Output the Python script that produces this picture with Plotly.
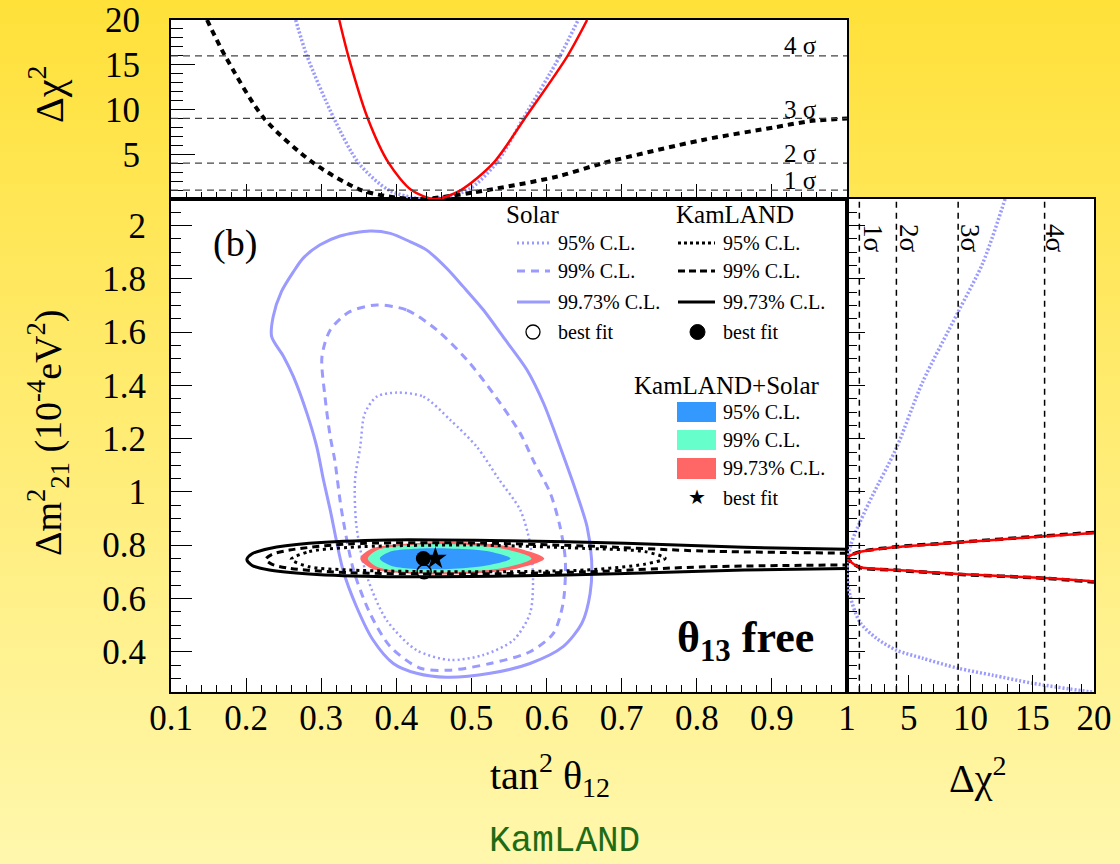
import plotly.graph_objects as go

# ---------------------------------------------------------------- data
SIGMA_LEVELS = [1, 4, 9, 16]
SIGMA_LABELS = ["1σ", "2σ", "3σ", "4σ"]

# Main panel: tan^2(theta12) vs Delta m^2_21 (1e-4 eV^2)
solar_9973_x = [0.365, 0.392, 0.418, 0.440, 0.467, 0.489, 0.516, 0.542, 0.574, 0.596, 0.618, 0.634,
                0.640, 0.654, 0.660, 0.658, 0.647, 0.622, 0.578, 0.525, 0.467, 0.427, 0.396, 0.369,
                0.347, 0.329, 0.312, 0.303, 0.294, 0.281, 0.263, 0.250, 0.234, 0.236, 0.247, 0.263,
                0.276, 0.298, 0.325, 0.365]
solar_9973_y = [1.980, 1.971, 1.940, 1.909, 1.840, 1.771, 1.683, 1.583, 1.458, 1.333, 1.170, 1.045,
                0.995, 0.869, 0.744, 0.619, 0.507, 0.419, 0.356, 0.319, 0.304, 0.319, 0.356, 0.444,
                0.569, 0.707, 0.932, 1.045, 1.170, 1.295, 1.433, 1.508, 1.583, 1.658, 1.752, 1.827,
                1.878, 1.927, 1.961, 1.980]

solar_99_x = [0.374, 0.414, 0.454, 0.494, 0.529, 0.565, 0.582, 0.605, 0.618, 0.625, 0.622, 0.609,
              0.578, 0.525, 0.472, 0.432, 0.392, 0.365, 0.343, 0.327, 0.318, 0.312, 0.305, 0.301,
              0.312, 0.338, 0.374]
solar_99_y = [1.702, 1.683, 1.608, 1.496, 1.370, 1.220, 1.120, 0.995, 0.869, 0.744, 0.582, 0.469,
              0.400, 0.356, 0.331, 0.338, 0.419, 0.544, 0.707, 0.932, 1.120, 1.208, 1.358, 1.508,
              1.608, 1.677, 1.702]

solar_95_x = [0.401, 0.436, 0.472, 0.507, 0.536, 0.565, 0.578, 0.582, 0.578, 0.556, 0.516, 0.472,
              0.427, 0.387, 0.361, 0.347, 0.345, 0.352, 0.358, 0.374, 0.401]
solar_95_y = [1.373, 1.358, 1.270, 1.170, 1.050, 0.932, 0.807, 0.669, 0.544, 0.444, 0.388, 0.369,
              0.406, 0.519, 0.682, 0.869, 1.045, 1.170, 1.295, 1.358, 1.373]

kam_9973_x = [1.000, 0.863, 0.705, 0.547, 0.389, 0.284, 0.231, 0.208, 0.201, 0.208, 0.231, 0.284,
              0.389, 0.547, 0.705, 0.863, 1.000]
kam_9973_y = [0.785, 0.792, 0.807, 0.817, 0.820, 0.807, 0.788, 0.768, 0.746, 0.724, 0.707, 0.692,
              0.682, 0.684, 0.694, 0.707, 0.713]

kam_99_x = [1.000, 0.810, 0.652, 0.494, 0.337, 0.258, 0.234, 0.226, 0.234, 0.258, 0.337, 0.494,
            0.652, 0.810, 1.000]
kam_99_y = [0.770, 0.778, 0.797, 0.809, 0.805, 0.782, 0.765, 0.747, 0.729, 0.713, 0.697, 0.692,
            0.700, 0.719, 0.726]

kam_95_x = [0.260, 0.284, 0.337, 0.494, 0.652, 0.731, 0.758, 0.731, 0.652, 0.494, 0.337, 0.284, 0.260]
kam_95_y = [0.747, 0.776, 0.792, 0.801, 0.788, 0.776, 0.751, 0.729, 0.707, 0.700, 0.707, 0.719, 0.747]

comb_9973_x = [0.352, 0.366, 0.415, 0.490, 0.560, 0.597, 0.560, 0.490, 0.415, 0.366, 0.352]
comb_9973_y = [0.750, 0.786, 0.806, 0.811, 0.790, 0.750, 0.712, 0.692, 0.694, 0.714, 0.750]
comb_99_x = [0.362, 0.375, 0.415, 0.480, 0.545, 0.580, 0.545, 0.480, 0.415, 0.375, 0.362]
comb_99_y = [0.750, 0.782, 0.800, 0.804, 0.785, 0.750, 0.716, 0.699, 0.700, 0.718, 0.750]
comb_95_x = [0.378, 0.392, 0.420, 0.470, 0.520, 0.552, 0.520, 0.470, 0.420, 0.392, 0.378]
comb_95_y = [0.750, 0.776, 0.786, 0.788, 0.778, 0.750, 0.724, 0.711, 0.712, 0.724, 0.750]

best_solar = (0.437, 0.700)
best_kam = (0.436, 0.750)
best_comb = (0.452, 0.750)

# Top panel: Delta chi^2 vs tan^2(theta12)
dchi_kam_x = [0.148, 0.172, 0.224, 0.290, 0.353, 0.400, 0.436, 0.500, 0.614, 0.675, 0.808, 0.903, 0.951, 1.000]
dchi_kam_y = [20.0, 16.0, 9.0, 4.0, 1.0, 0.15, 0.0, 0.7, 2.5, 4.0, 6.6, 8.0, 8.7, 9.0]
dchi_solar_x = [0.266, 0.281, 0.317, 0.350, 0.390, 0.438, 0.495, 0.533, 0.569, 0.618, 0.642]
dchi_solar_y = [20.0, 16.0, 9.0, 4.0, 1.0, 0.0, 1.0, 4.0, 9.0, 16.0, 20.0]
dchi_comb_x = [0.324, 0.336, 0.362, 0.390, 0.420, 0.452, 0.486, 0.529, 0.571, 0.628, 0.654]
dchi_comb_y = [20.0, 16.0, 9.0, 4.0, 1.0, 0.0, 1.0, 4.0, 9.0, 16.0, 20.0]

# Right panel: Delta m^2_21 vs Delta chi^2
dm_solar_chi = [12.8, 11.0, 9.0, 6.1, 4.0, 2.1, 1.05, 0.3, 0.0, 0.25, 1.05, 2.4, 4.0, 6.1, 9.0, 11.8, 15.0, 19.6, 20.0]
dm_solar_dm = [2.10, 1.86, 1.676, 1.41, 1.165, 0.99, 0.887, 0.80, 0.70, 0.61, 0.511, 0.45, 0.406, 0.376,
               0.338, 0.312, 0.282, 0.250, 0.248]
dm_kam_chi = [20.0, 16.0, 9.0, 4.0, 1.0, 0.3, 0.0, 0.3, 1.0, 4.0, 9.0, 16.0, 20.0]
dm_kam_dm = [0.848, 0.835, 0.811, 0.794, 0.775, 0.762, 0.750, 0.738, 0.717, 0.706, 0.691, 0.676, 0.662]
dm_comb_chi = [20.0, 16.0, 9.0, 4.0, 1.0, 0.3, 0.0, 0.3, 1.0, 4.0, 9.0, 16.0, 20.0]
dm_comb_dm = [0.846, 0.834, 0.810, 0.793, 0.774, 0.762, 0.750, 0.738, 0.718, 0.707, 0.692, 0.677, 0.664]

main_xticks = [0.1, 0.2, 0.3, 0.4, 0.5, 0.6, 0.7, 0.8, 0.9, 1.0]
main_xticktext = ["0.1", "0.2", "0.3", "0.4", "0.5", "0.6", "0.7", "0.8", "0.9", "1"]
chi_ticks = [5, 10, 15, 20]

# ---------------------------------------------------------------- styles
W, H = 1120, 864
SERIF = "Liberation Serif, Times New Roman, serif"
SOLAR_C = "#9a9aff"
BLUE_C = "#3399ff"
MINT_C = "#66ffcc"
SALMON_C = "#ff6666"
RED_C = "#ff0000"


def px(x):
    return x / W


def py(y):
    return 1 - y / H


fig = go.Figure()


def line(x, y, color, width, dash="solid", xa="x", ya="y"):
    fig.add_trace(go.Scatter(
        x=x, y=y, mode="lines", xaxis=xa, yaxis=ya, showlegend=False, hoverinfo="skip",
        line=dict(color=color, width=width, dash=dash, shape="spline", smoothing=0.8)))


# main panel: solar contours
line(solar_95_x, solar_95_y, SOLAR_C, 2.5, "2px,3px")
line(solar_99_x, solar_99_y, SOLAR_C, 3, "8px,6px")
line(solar_9973_x, solar_9973_y, SOLAR_C, 3)

# main panel: combined allowed regions
for xs, ys, col in [(comb_9973_x, comb_9973_y, SALMON_C),
                    (comb_99_x, comb_99_y, MINT_C),
                    (comb_95_x, comb_95_y, BLUE_C)]:
    fig.add_trace(go.Scatter(x=xs, y=ys, mode="lines", fill="toself", fillcolor=col,
                             line=dict(width=0, shape="spline", smoothing=0.9),
                             showlegend=False, hoverinfo="skip"))

# main panel: KamLAND contours
line(kam_95_x, kam_95_y, "black", 3, "3px,4px")
line(kam_99_x, kam_99_y, "black", 3, "7px,5px")
line(kam_9973_x, kam_9973_y, "black", 3)

# best-fit points
fig.add_trace(go.Scatter(x=[best_solar[0]], y=[best_solar[1]], mode="markers", showlegend=False,
                         marker=dict(symbol="circle-open", size=14, color="black", line=dict(width=1.5))))
fig.add_trace(go.Scatter(x=[best_kam[0]], y=[best_kam[1]], mode="markers", showlegend=False,
                         marker=dict(symbol="circle", size=15, color="black")))
fig.add_trace(go.Scatter(x=[best_comb[0]], y=[best_comb[1]], mode="markers", showlegend=False,
                         marker=dict(symbol="star", size=17, color="black")))

# top panel
line(dchi_solar_x, dchi_solar_y, SOLAR_C, 3.5, "2px,2px", "x2", "y2")
line(dchi_kam_x, dchi_kam_y, "black", 4, "6px,5px", "x2", "y2")
line(dchi_comb_x, dchi_comb_y, RED_C, 2.5, "solid", "x2", "y2")

# right panel
line(dm_solar_chi, dm_solar_dm, SOLAR_C, 3.5, "2px,2px", "x3", "y3")
line(dm_kam_chi, dm_kam_dm, "black", 3.5, "8px,5px", "x3", "y3")
line(dm_comb_chi, dm_comb_dm, RED_C, 2.5, "solid", "x3", "y3")

# ---------------------------------------------------------------- background & frames
shapes = []
top_rgb = (255, 225, 58)
bot_rgb = (255, 247, 172)
n_strips = 108
for i in range(n_strips):
    t = i / (n_strips - 1)
    c = tuple(round(a + (b - a) * t) for a, b in zip(top_rgb, bot_rgb))
    shapes.append(dict(type="rect", xref="paper", yref="paper", x0=0, x1=1,
                       y0=max(0, 1 - (i + 1) / n_strips - 0.002), y1=1 - i / n_strips,
                       fillcolor="rgb(%d,%d,%d)" % c, line=dict(width=0), layer="below"))
for xa, ya in [("x", "y"), ("x2", "y2"), ("x3", "y3")]:
    shapes.append(dict(type="rect", xref=xa + " domain", yref=ya + " domain", x0=0, x1=1, y0=0, y1=1,
                       fillcolor="white", line=dict(width=0), layer="below"))

# sigma reference lines
for lvl in SIGMA_LEVELS:
    shapes.append(dict(type="line", xref="x2 domain", yref="y2", x0=0, x1=1, y0=lvl, y1=lvl,
                       line=dict(color="#444444", width=1.3, dash="7px,5px")))
    shapes.append(dict(type="line", xref="x3", yref="y3 domain", x0=lvl, x1=lvl, y0=0, y1=1,
                       line=dict(color="black", width=1.5, dash="6px,5px")))

# legend samples
leg_rows = [243, 271, 302]
leg_dash = ["2px,3px", "8px,6px", "solid"]
for r, d in zip(leg_rows, leg_dash):
    shapes.append(dict(type="line", xref="paper", yref="paper", x0=px(517), x1=px(550), y0=py(r), y1=py(r),
                       line=dict(color=SOLAR_C, width=3, dash=d)))
for r, d in zip(leg_rows, ["3px,3px", "7px,4px", "solid"]):
    shapes.append(dict(type="line", xref="paper", yref="paper", x0=px(678), x1=px(715), y0=py(r), y1=py(r),
                       line=dict(color="black", width=3, dash=d)))
shapes.append(dict(type="circle", xref="paper", yref="paper", x0=px(526), x1=px(540), y0=py(339), y1=py(325),
                   line=dict(color="black", width=1.3), fillcolor="rgba(0,0,0,0)"))
shapes.append(dict(type="circle", xref="paper", yref="paper", x0=px(690), x1=px(705), y0=py(339.5), y1=py(324.5),
                   line=dict(color="black", width=1), fillcolor="black"))
for (y0, y1), col in zip([(402, 422), (430, 450), (458, 479)], [BLUE_C, MINT_C, SALMON_C]):
    shapes.append(dict(type="rect", xref="paper", yref="paper", x0=px(677), x1=px(716), y0=py(y1), y1=py(y0),
                       fillcolor=col, line=dict(width=0)))

# ---------------------------------------------------------------- annotations
ann = []


def text(x, y, s, size, angle=0, xanchor="center", font=SERIF, color="black"):
    ann.append(dict(x=px(x), y=py(y), xref="paper", yref="paper", text=s, showarrow=False,
                    xanchor=xanchor, yanchor="middle", textangle=angle,
                    font=dict(family=font, size=size, color=color)))


text(532, 215, "Solar", 25)
text(735, 215, "KamLAND", 25)
for r, s in zip(leg_rows + [332], ["95% C.L.", "99% C.L.", "99.73% C.L.", "best fit"]):
    text(556, r, s, 20, xanchor="left")
    text(721, r, s, 20, xanchor="left")
text(727, 385, "KamLAND+Solar", 25)
for r, s in zip([412, 440, 468, 498], ["95% C.L.", "99% C.L.", "99.73% C.L.", "best fit"]):
    text(721, r, s, 20, xanchor="left")
text(697, 497, "★", 20, font="DejaVu Sans")

text(235, 243, "(b)", 38)
text(745, 640, "<b>θ<sub>13</sub> free</b>", 44)

for lab, yy in zip(SIGMA_LABELS, [180, 154, 109, 46]):
    text(800, yy, lab.replace("σ", " σ"), 25)
for lab, xx in zip(SIGMA_LABELS, [873, 909, 970, 1055]):
    text(xx, 238, lab, 27, angle=90)

text(46, 95, "Δχ<sup>2</sup>", 40, angle=-90)
text(48, 433, "Δm<sup>2</sup><sub>21</sub> (10<sup>-4</sup>eV<sup>2</sup>)", 38, angle=-90)
text(550, 775, "tan<sup>2</sup> θ<sub>12</sub>", 40)
text(977, 775, "Δχ<sup>2</sup>", 40)
text(564, 841, "KamLAND", 36, font="Liberation Mono", color="#1d6b16")

# ---------------------------------------------------------------- axes
X_MAIN = [px(171), px(847)]
X_RIGHT = [px(847), px(1094)]
Y_MAIN = [py(691.7), py(199)]
Y_TOP = [py(199), py(20)]
tickfont = dict(family=SERIF, size=35, color="black")
frame = dict(showline=True, linecolor="black", linewidth=2, mirror=True, showgrid=False, zeroline=False,
             automargin=False)

fig.update_layout(
    template="none",
    width=W, height=H, margin=dict(l=0, r=0, t=0, b=0, pad=0),
    font=dict(family=SERIF, color="black"),
    paper_bgcolor="rgb(%d,%d,%d)" % top_rgb, plot_bgcolor="white",
    showlegend=False, shapes=shapes, annotations=ann,
    xaxis=dict(domain=X_MAIN, anchor="y", range=[0.1, 1.0], tickvals=main_xticks, ticktext=main_xticktext,
               ticks="inside", ticklen=14, tickwidth=1.3, tickcolor="black", tickfont=tickfont,
               ticklabelstandoff=-6,
               minor=dict(dtick=0.02, tick0=0, ticks="inside", ticklen=7, tickcolor="black", tickwidth=1.1),
               **frame),
    yaxis=dict(domain=Y_MAIN, anchor="x", range=[0.25, 2.1], dtick=0.2, tick0=0, tickformat="~g",
               ticks="inside", ticklen=21, tickwidth=1.3, tickcolor="black", tickfont=tickfont,
               ticklabelstandoff=16,
               minor=dict(dtick=0.05, tick0=0, ticks="inside", ticklen=10, tickcolor="black", tickwidth=1.1),
               **frame),
    xaxis2=dict(domain=X_MAIN, anchor="y2", range=[0.1, 1.0], dtick=0.1, tick0=0, showticklabels=False,
                ticks="inside", ticklen=15, tickwidth=1.3, tickcolor="black",
                minor=dict(dtick=0.02, tick0=0, ticks="inside", ticklen=7, tickcolor="black", tickwidth=1.1),
                **frame),
    yaxis2=dict(domain=Y_TOP, anchor="x2", range=[0, 20], tickvals=chi_ticks,
                ticks="inside", ticklen=24, tickwidth=1.3, tickcolor="black", tickfont=tickfont,
                ticklabelstandoff=22,
                minor=dict(dtick=1, tick0=0, ticks="inside", ticklen=12, tickcolor="black", tickwidth=1.1),
                **frame),
    xaxis3=dict(domain=X_RIGHT, anchor="y3", range=[0, 20], tickvals=chi_ticks,
                ticks="inside", ticklen=17, tickwidth=1.3, tickcolor="black", tickfont=tickfont,
                ticklabelstandoff=-6,
                minor=dict(dtick=1, tick0=0, ticks="inside", ticklen=8, tickcolor="black", tickwidth=1.1),
                **frame),
    yaxis3=dict(domain=Y_MAIN, anchor="x3", range=[0.25, 2.1], dtick=0.2, tick0=0, showticklabels=False,
                ticks="inside", ticklen=18, tickwidth=1.3, tickcolor="black",
                minor=dict(dtick=0.05, tick0=0, ticks="inside", ticklen=10, tickcolor="black", tickwidth=1.1),
                **frame),
)

fig.write_html("out.html")
